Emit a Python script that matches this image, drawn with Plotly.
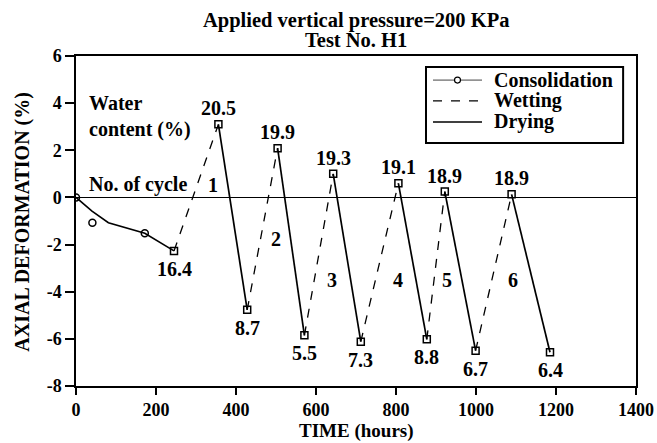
import plotly.graph_objects as go

# ---- data ----
cons_pts_t = [0, 41, 172]            # consolidation readings (circles)
cons_pts_d = [0.0, -1.07, -1.52]
cons_curve_t = [0, 40, 81, 172, 245]  # drawn consolidation curve
cons_curve_d = [0.0, -0.58, -1.07, -1.52, -2.27]

turn_t = [245, 356, 428, 504, 571, 643, 712, 806, 877, 922, 999, 1089, 1185]
turn_d = [-2.27, 3.10, -4.77, 2.09, -5.85, 1.00, -6.12, 0.60, -6.02, 0.25, -6.50, 0.13, -6.57]
water = ["16.4", "20.5", "8.7", "19.9", "5.5", "19.3", "7.3", "19.1", "8.8", "18.9", "6.7", "18.9", "6.4"]

cycle_no = ["1", "2", "3", "4", "5", "6"]
cycle_t = [343, 499, 639, 804, 928, 1093]
cycle_d = [0.53, -1.76, -3.5, -3.5, -3.5, -3.5]

x_ticks = [0, 200, 400, 600, 800, 1000, 1200, 1400]
x_tick_labels = ["0", "200", "400", "600", "800", "1000", "1200", "1400"]
y_ticks = [-8, -6, -4, -2, 0, 2, 4, 6]
y_tick_labels = ["-8", "-6", "-4", "-2", "0", "2", "4", "6"]

legend_names = ["Consolidation", "Wetting", "Drying"]

FONT = "Liberation Serif"
BLACK = "black"

# wetting: trough -> peak ; drying: peak -> trough
wet_x, wet_y, dry_x, dry_y = [], [], [], []
for i in range(len(turn_t) - 1):
    if i % 2 == 0:
        wet_x += [turn_t[i], turn_t[i + 1], None]
        wet_y += [turn_d[i], turn_d[i + 1], None]
    else:
        dry_x += [turn_t[i], turn_t[i + 1], None]
        dry_y += [turn_d[i], turn_d[i + 1], None]

fig = go.Figure()

fig.add_trace(go.Scatter(x=cons_curve_t, y=cons_curve_d, mode="lines", name="Consolidation",
                         line=dict(color=BLACK, width=1.6), showlegend=False))
fig.add_trace(go.Scatter(x=wet_x, y=wet_y, mode="lines", name="Wetting",
                         line=dict(color=BLACK, width=1.3, dash="dash"), showlegend=False))
fig.add_trace(go.Scatter(x=dry_x, y=dry_y, mode="lines", name="Drying",
                         line=dict(color=BLACK, width=1.7), showlegend=False))
fig.add_trace(go.Scatter(x=cons_pts_t, y=cons_pts_d, mode="markers",
                         marker=dict(symbol="circle-open", size=7, color=BLACK, line=dict(width=1.5)),
                         showlegend=False))
fig.add_trace(go.Scatter(x=turn_t, y=turn_d, mode="markers",
                         marker=dict(symbol="square-open", size=7, color=BLACK, line=dict(width=1.5)),
                         showlegend=False))

ann = []
afont = dict(family=FONT, size=20, color=BLACK, weight="bold")
for i, (t, d, w) in enumerate(zip(turn_t, turn_d, water)):
    ann.append(dict(x=t, y=d, text=w, showarrow=False, font=afont,
                    yshift=(-18 if i % 2 == 0 else 16)))
for t, d, c in zip(cycle_t, cycle_d, cycle_no):
    ann.append(dict(x=t, y=d, text=c, showarrow=False, font=afont))
ann.append(dict(x=27, y=3.44, text="Water<br>content (%)", showarrow=False, font=afont,
                xanchor="left", yanchor="middle", align="left"))
ann.append(dict(x=27, y=0.53, text="No. of cycle", showarrow=False, font=afont,
                xanchor="left", yanchor="middle"))
# title lines
tfont = dict(family=FONT, size=20.5, color=BLACK, weight="bold")
ann.append(dict(xref="paper", yref="paper", x=0.5, y=1.109, text="Applied vertical pressure=200 KPa",
                showarrow=False, font=tfont, xanchor="center", yanchor="middle"))
ann.append(dict(xref="paper", yref="paper", x=0.5, y=1.048, text="Test No. H1",
                showarrow=False, font=tfont, xanchor="center", yanchor="middle"))
# axis titles
ann.append(dict(xref="paper", yref="paper", x=0.5, y=-0.1352, text="TIME (hours)",
                showarrow=False, borderpad=0,
                font=dict(family=FONT, size=19, color=BLACK, weight="bold"),
                xanchor="center", yanchor="middle"))
ann.append(dict(xref="paper", yref="paper", x=-0.0946, y=0.498, text="AXIAL DEFORMATION (%)",
                textangle=-90, showarrow=False,
                font=dict(family=FONT, size=20, color=BLACK, weight="bold"),
                xanchor="center", yanchor="middle"))

# ---- legend box (drawn in paper coordinates) ----
shapes = []
lx0, lx1, ly0, ly1 = 0.625, 0.977, 0.736, 0.967
shapes.append(dict(type="rect", xref="paper", yref="paper", x0=lx0, x1=lx1, y0=ly0, y1=ly1,
                   line=dict(color=BLACK, width=2), fillcolor="white", layer="above"))
row_y = [0.927, 0.864, 0.800]
samp_x0, samp_x1, text_x = 0.6375, 0.725, 0.743
samp_style = [dict(color="#444444", width=1), dict(color=BLACK, width=1.3, dash="dash"),
              dict(color=BLACK, width=1.7)]
for name, ry, st in zip(legend_names, row_y, samp_style):
    shapes.append(dict(type="line", xref="paper", yref="paper", x0=samp_x0, x1=samp_x1,
                       y0=ry, y1=ry, line=st, layer="above"))
    ann.append(dict(xref="paper", yref="paper", x=text_x, y=ry, text=name, showarrow=False,
                    xanchor="left", yanchor="middle",
                    font=dict(family=FONT, size=20, color=BLACK, weight="bold")))
# circle marker on the consolidation sample
cx = (samp_x0 + samp_x1) / 2
shapes.append(dict(type="circle", xref="paper", yref="paper", xsizemode="pixel", ysizemode="pixel",
                   xanchor=cx, yanchor=row_y[0], x0=-3, x1=3, y0=-3, y1=3,
                   line=dict(color=BLACK, width=1.2), fillcolor="white", layer="above"))

tickfont = dict(family=FONT, size=18, color=BLACK, weight="bold")
fig.update_layout(
    width=657, height=443, autosize=False,
    margin=dict(l=76, r=21, t=56, b=57),
    paper_bgcolor="white", plot_bgcolor="white",
    showlegend=False,
    annotations=ann,
    shapes=shapes,
    xaxis=dict(range=[0, 1400], tickvals=x_ticks, ticktext=x_tick_labels, ticks="outside",
               ticklen=7, tickwidth=1.5, tickcolor=BLACK, showline=True, linecolor=BLACK,
               linewidth=1.5, mirror=True, showgrid=False, zeroline=False, tickfont=tickfont,
               automargin=False),
    yaxis=dict(range=[-8, 6], tickvals=y_ticks, ticktext=y_tick_labels, ticks="outside",
               ticklen=9, tickwidth=1.5, tickcolor=BLACK, showline=True, linecolor=BLACK,
               linewidth=1.5, mirror=True, showgrid=False, zeroline=True, zerolinecolor=BLACK,
               zerolinewidth=1.3, tickfont=tickfont, automargin=False),
)

fig.write_html("out.html",
               config={"displayModeBar": False, "responsive": False},
               post_script="document.body.style.margin='0px';document.body.style.overflow='hidden';")
